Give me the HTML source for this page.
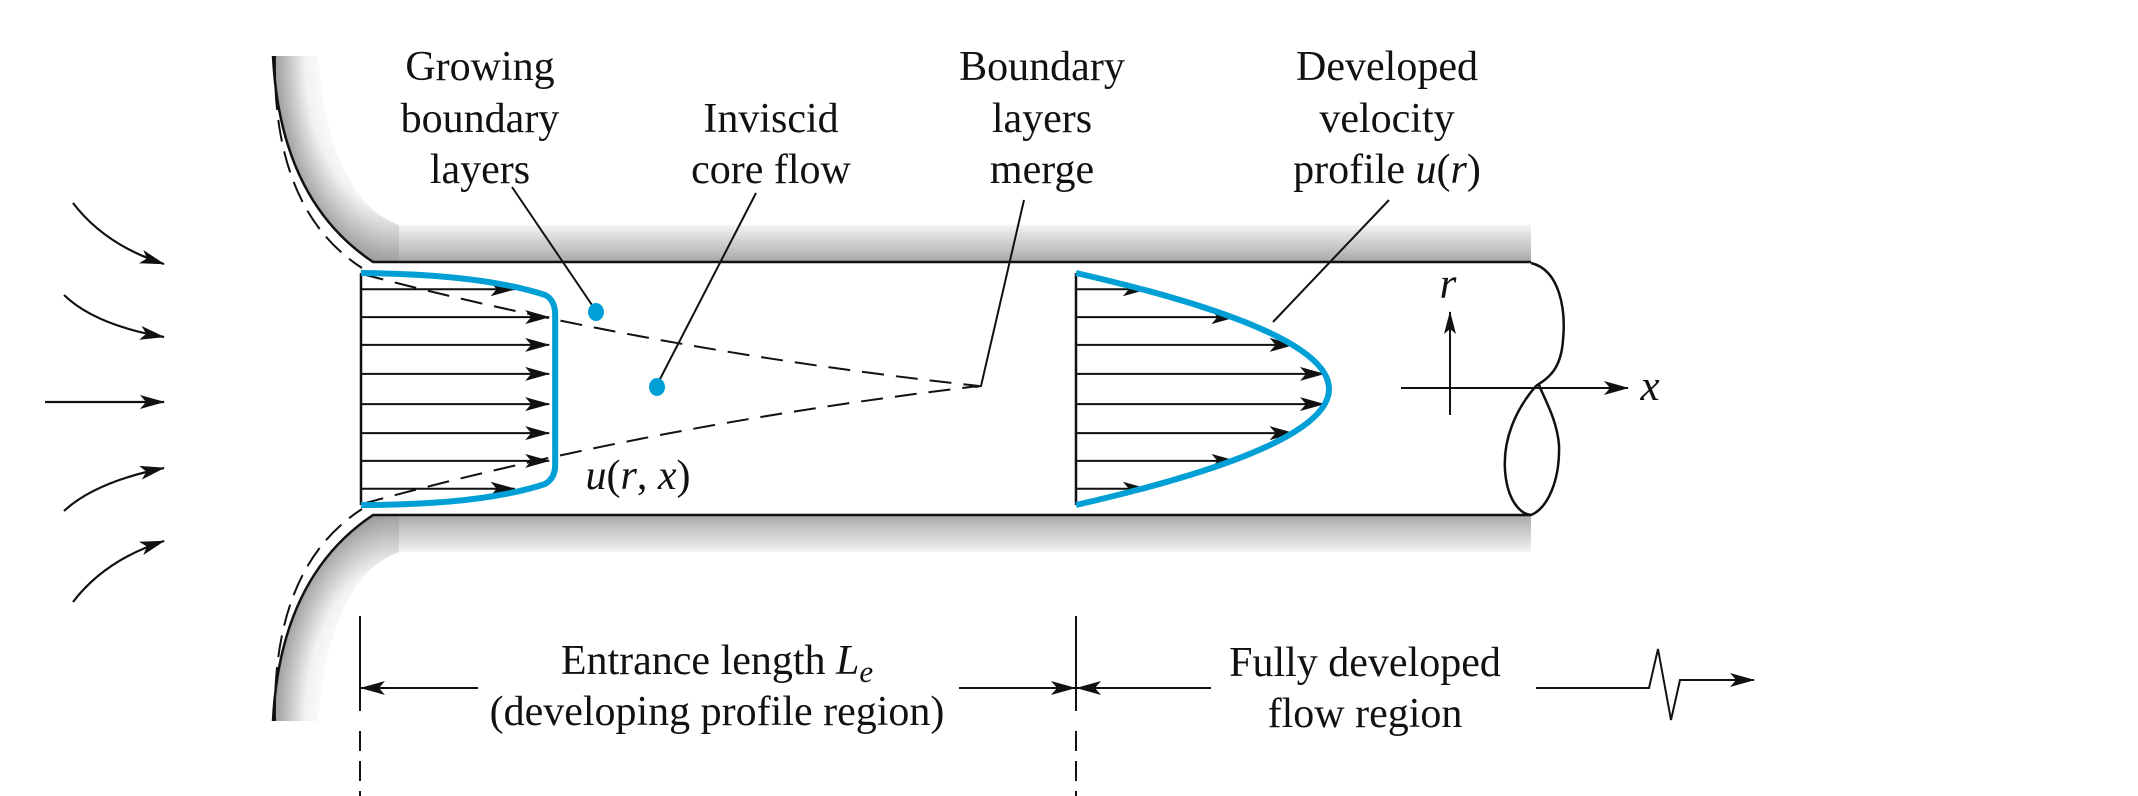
<!DOCTYPE html>
<html><head><meta charset="utf-8">
<style>
html,body{margin:0;padding:0;background:#fff;}
svg{display:block;}
text{font-family:"Liberation Serif",serif;fill:#111;}
</style></head>
<body>
<svg id="fig" width="2138" height="796" viewBox="0 0 2138 796">
<defs>
<linearGradient id="gTop" x1="0" y1="0" x2="0" y2="1">
<stop offset="0" stop-color="#f4f4f4"/><stop offset="1" stop-color="#a8a8a8"/></linearGradient>
<linearGradient id="gBot" x1="0" y1="1" x2="0" y2="0">
<stop offset="0" stop-color="#f4f4f4"/><stop offset="1" stop-color="#a8a8a8"/></linearGradient>
<radialGradient id="gBellT" gradientUnits="userSpaceOnUse" cx="0" cy="0" r="1" gradientTransform="translate(395,56) scale(120,206)">
<stop offset="0.55" stop-color="#ffffff"/><stop offset="0.75" stop-color="#f2f2f2"/><stop offset="1" stop-color="#9e9e9e"/></radialGradient>
<radialGradient id="gBellB" gradientUnits="userSpaceOnUse" cx="0" cy="0" r="1" gradientTransform="translate(395,721) scale(120,206)">
<stop offset="0.55" stop-color="#ffffff"/><stop offset="0.75" stop-color="#f2f2f2"/><stop offset="1" stop-color="#9e9e9e"/></radialGradient>
<marker id="ah" markerWidth="24" markerHeight="12" refX="22" refY="6" orient="auto" markerUnits="userSpaceOnUse">
<path d="M0,0 L23,6 L0,12 L5,6 Z" fill="#111"/></marker>
<marker id="ahb" markerWidth="26" markerHeight="14" refX="24" refY="7" orient="auto" markerUnits="userSpaceOnUse">
<path d="M0,0 L25,7 L0,14 L6,7 Z" fill="#111"/></marker>
</defs>

<g>
<path d="M273,56 Q280,200 373,262 L1531,262 L1531,225 L399,225 Q330,200 318,56 Z" fill="url(#gBellT)"/>
<rect x="399" y="225" width="1132" height="37" fill="url(#gTop)"/>
<path d="M273,56 Q280,200 373,262 L1531,262" fill="none" stroke="#111" stroke-width="2.5"/>
</g>
<g>
<path d="M273,721 Q280,577 373,515 L1531,515 L1531,552 L399,552 Q330,577 318,721 Z" fill="url(#gBellB)"/>
<rect x="399" y="515" width="1132" height="37" fill="url(#gBot)"/>
<path d="M273,721 Q280,577 373,515 L1531,515" fill="none" stroke="#111" stroke-width="2.5"/>
</g>
<path d="M275,56 Q272,210 362,268" fill="none" stroke="#111" stroke-width="2" stroke-dasharray="22,10"/>
<path d="M275,721 Q272,567 362,509" fill="none" stroke="#111" stroke-width="2" stroke-dasharray="22,10"/>

<path d="M1531,263 C1560,270 1566,310 1563,340 C1561,370 1548,378 1536,386 C1515,410 1503,440 1505,470 C1507,500 1520,514 1531,515 C1548,508 1560,480 1559,445 C1557,420 1545,400 1539,385" fill="none" stroke="#111" stroke-width="2.5"/>

<g fill="none" stroke="#111" stroke-width="2.2" marker-end="url(#ahb)">
<path d="M73,203 Q105,245 164,264"/>
<path d="M64,295 Q95,325 164,337"/>
<path d="M45,402 L164,402"/>
<path d="M64,511 Q95,482 164,468"/>
<path d="M73,602 Q105,560 164,541"/>
</g>

<path d="M362,274 Q650,350 979,386" fill="none" stroke="#111" stroke-width="2" stroke-dasharray="22,12"/>
<path d="M362,504 Q650,425 979,386" fill="none" stroke="#111" stroke-width="2" stroke-dasharray="22,12"/>

<g id="profiles"></g>

<line x1="512" y1="187" x2="592" y2="305" stroke="#111" stroke-width="2"/>
<line x1="756" y1="193" x2="659" y2="381" stroke="#111" stroke-width="2"/>
<path d="M1024,200 L981,386 L975,387" fill="none" stroke="#111" stroke-width="2"/>
<line x1="1389" y1="200" x2="1273" y2="322" stroke="#111" stroke-width="2"/>
<ellipse cx="596" cy="312" rx="8" ry="9" fill="#00a0d6"/>
<ellipse cx="657" cy="387" rx="8" ry="9" fill="#00a0d6"/>

<line x1="1450" y1="415" x2="1450" y2="312" stroke="#111" stroke-width="2" marker-end="url(#ah)"/>
<line x1="1401" y1="388" x2="1628" y2="388" stroke="#111" stroke-width="2" marker-end="url(#ahb)"/>
<text x="1448" y="298" font-size="43" font-style="italic" text-anchor="middle">r</text>
<text x="1650" y="400" font-size="43" font-style="italic" text-anchor="middle">x</text>

<g font-size="42" text-anchor="middle">
<text><tspan x="480" y="80">Growing</tspan><tspan x="480" y="132">boundary</tspan><tspan x="480" y="183">layers</tspan></text>
<text><tspan x="771" y="132">Inviscid</tspan><tspan x="771" y="183">core flow</tspan></text>
<text><tspan x="1042" y="80">Boundary</tspan><tspan x="1042" y="132">layers</tspan><tspan x="1042" y="183">merge</tspan></text>
<text><tspan x="1387" y="80">Developed</tspan><tspan x="1387" y="132">velocity</tspan><tspan x="1387" y="183">profile <tspan font-style="italic">u</tspan>(<tspan font-style="italic">r</tspan>)</tspan></text>
<text x="638" y="489"><tspan font-style="italic">u</tspan>(<tspan font-style="italic">r</tspan>, <tspan font-style="italic">x</tspan>)</text>
<text><tspan x="717" y="674">Entrance length <tspan font-style="italic">L</tspan><tspan font-style="italic" font-size="31" dy="8">e</tspan></tspan><tspan x="717" y="725">(developing profile region)</tspan></text>
<text><tspan x="1365" y="676">Fully developed</tspan><tspan x="1365" y="727">flow region</tspan></text>
</g>

<g stroke="#111" stroke-width="2" fill="none">
<line x1="360" y1="616" x2="360" y2="711"/>
<line x1="360" y1="731" x2="360" y2="796" stroke-dasharray="20,10"/>
<line x1="1076" y1="616" x2="1076" y2="711"/>
<line x1="1076" y1="731" x2="1076" y2="796" stroke-dasharray="20,10"/>
<line x1="478" y1="688" x2="361" y2="688" marker-end="url(#ahb)"/>
<line x1="959" y1="688" x2="1075" y2="688" marker-end="url(#ahb)"/>
<line x1="1211" y1="688" x2="1077" y2="688" marker-end="url(#ahb)"/>
<path d="M1536,688 L1649,688 L1658,649 L1671,720 L1680,680 L1754,680" marker-end="url(#ahb)"/>
</g>
</svg>
<script>
// row radial positions (fraction of radius, +top)
const rowR = [0.86, 0.62, 0.38, 0.13, -0.13, -0.38, -0.62, -0.86];
// developing profile velocities (fraction of max length)
const devU = [0.80, 0.98, 0.98, 0.98, 0.98, 0.98, 0.98, 0.80];
// fully developed velocities (fraction of centerline velocity)
const fullU = [0.28, 0.63, 0.86, 0.98, 0.98, 0.86, 0.63, 0.28];

const svg = document.getElementById('profiles');
const NS = 'http://www.w3.org/2000/svg';
const yC = 389, R = 116;
const yOf = r => yC - r * R;
function mk(tag, attrs){ const e=document.createElementNS(NS,tag); for(const k in attrs) e.setAttribute(k,attrs[k]); svg.appendChild(e); return e; }

function profile(x0, L, vals, name, parabolic){
  const base = mk('line',{x1:x0,y1:273,x2:x0,y2:505,stroke:'#111','stroke-width':2.5});
  
  
  vals.forEach((v,i)=>{
    const y = yOf(rowR[i]);
    const a = mk('line',{x1:x0,y1:y,x2:x0+v*L,y2:y,stroke:'#111','stroke-width':2,'marker-end':'url(#ahb)'});
    
    
  });
  let d;
  if(parabolic){
    const xm = x0 + L;
    d = `M${x0},273 Q${2*xm-x0},389 ${x0},505`;
  } else {
    const xm = x0 + Math.max(...vals)*L + 6;
    d = `M${x0},273 Q${x0+120},274 ${xm-10},295 Q${xm},300 ${xm},315 L${xm},465 Q${xm},478 ${xm-10},484 Q${x0+120},505 ${x0},505`;
  }
  const c = mk('path',{d:d,fill:'none',stroke:'#00a0d6','stroke-width':6});
  
  
}
profile(361, 192, devU, 'developing-profile', false);
profile(1076, 253, fullU, 'developed-profile', true);
</script>
</body></html>
